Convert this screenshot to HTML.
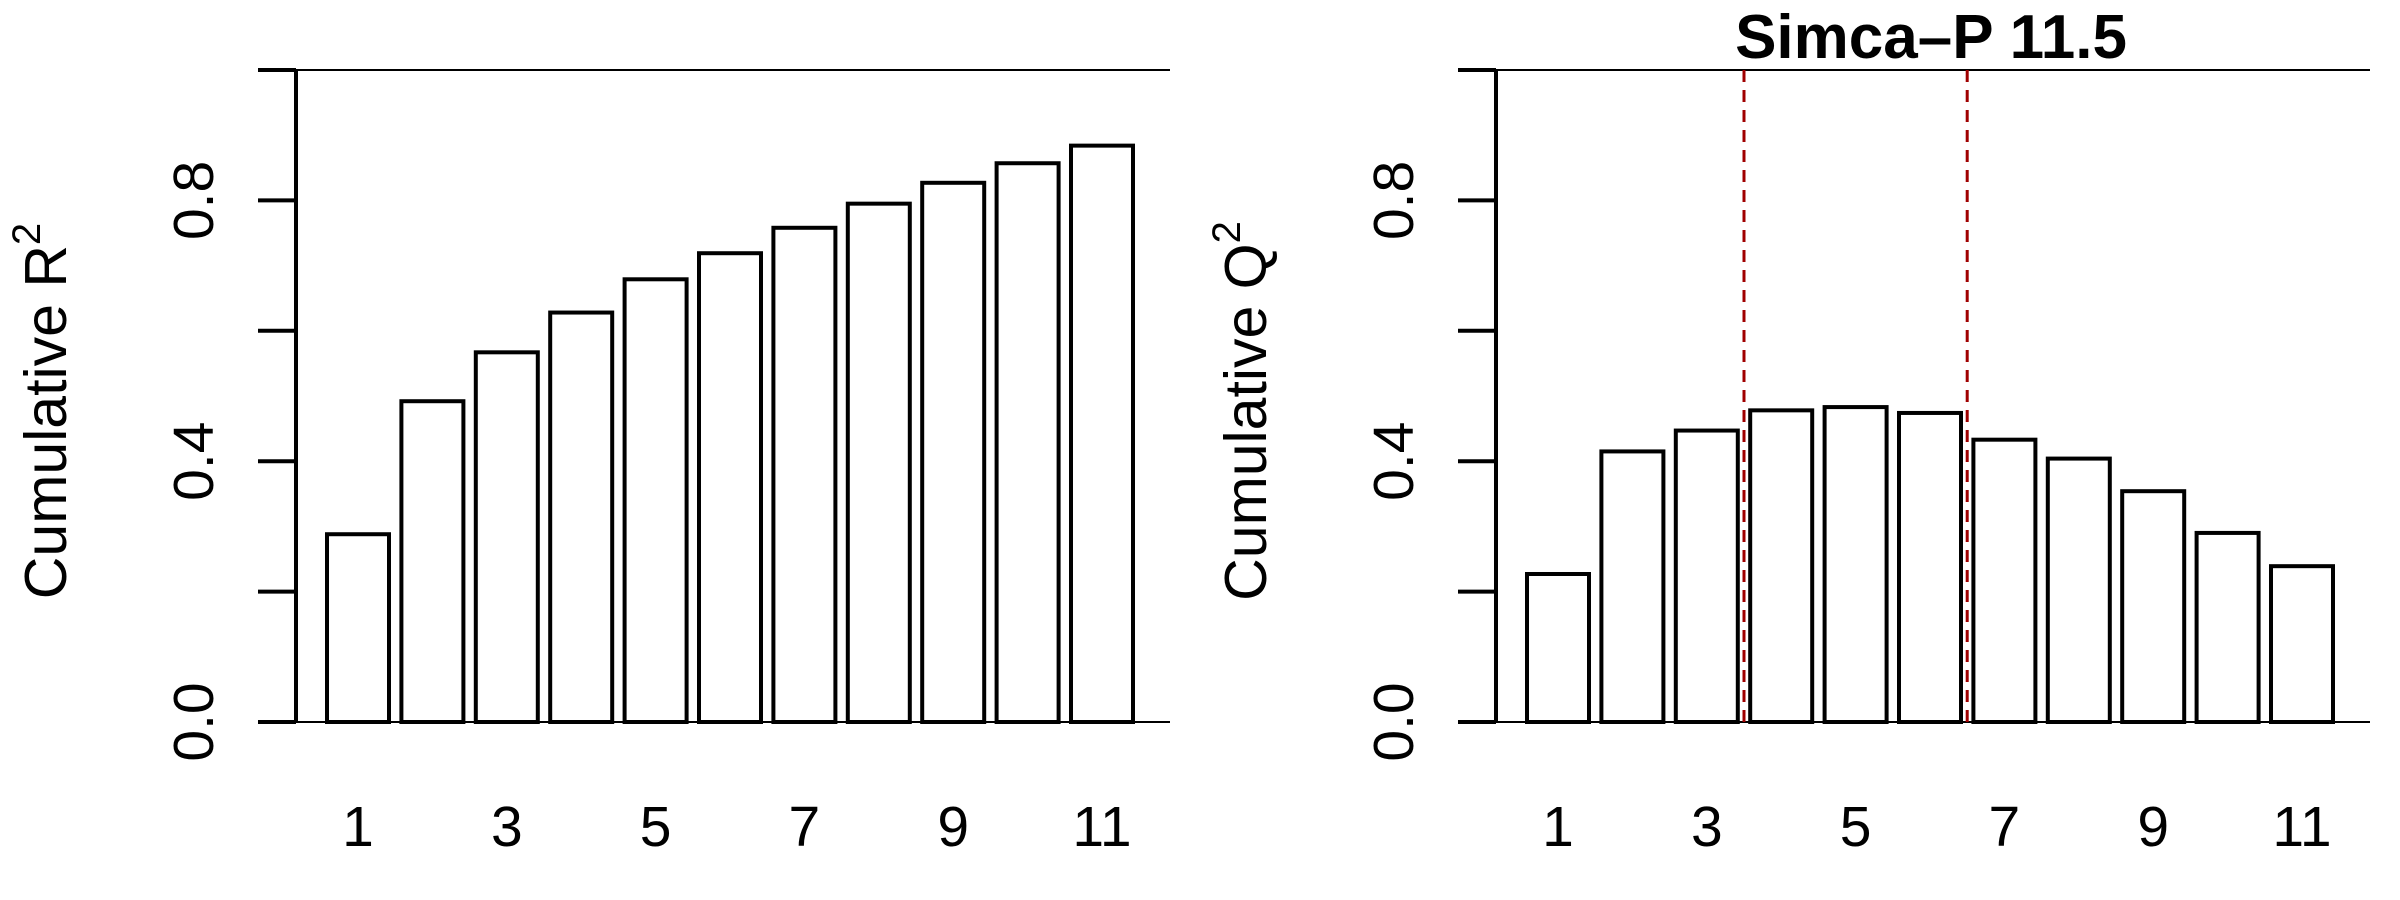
<!DOCTYPE html>
<html><head><meta charset="utf-8"><style>
html,body{margin:0;padding:0;background:#fff;}
svg{display:block;font-family:"Liberation Sans",sans-serif;}
</style></head><body>
<svg id="c" width="2400" height="900" xmlns="http://www.w3.org/2000/svg"></svg>
<script>
const categories = [1,2,3,4,5,6,7,8,9,10,11];
const r2Values = [0.288,0.492,0.567,0.628,0.679,0.719,0.758,0.795,0.827,0.857,0.884];
const q2Values = [0.227,0.415,0.447,0.478,0.483,0.474,0.433,0.404,0.354,0.290,0.239];
const yTicks = [0,0.2,0.4,0.6,0.8,1.0];
const yTickLabels = ["0.0","","0.4","","0.8",""];
const xTickLabels = ["1","3","5","7","9","11"];
const xTickCats = [1,3,5,7,9,11];
const cutoffs = [3.5,6.5];

const NS="http://www.w3.org/2000/svg";
const svg=document.getElementById('c');
function mk(t,a,p){const e=document.createElementNS(NS,t);for(const k in a)e.setAttribute(k,a[k]);(p||svg).appendChild(e);return e;}
const y0=722, y1=70;
function ys(v){return y0-(y0-y1)*v;}
const pitch=74.4, bw=62.0;
function barLeft(i,ox){return ox+327+i*pitch;}
function xc(cat,ox){return barLeft(cat-1,ox)+bw/2;}
function xBetween(c,ox){const i=Math.floor(c);return (barLeft(i-1,ox)+bw+barLeft(i,ox))/2;}

function panel(ox,vals,label,name){
  const g=mk('g',{});
  
  
  const ax=ox+296;
  const l1=mk('line',{x1:ax,y1:y1,x2:ox+1170,y2:y1,stroke:'#000','stroke-width':2},g);
  
  const l2=mk('line',{x1:ax,y1:y0,x2:ox+1170,y2:y0,stroke:'#000','stroke-width':2},g);
  
  const ya=mk('line',{x1:ax,y1:y1-1,x2:ax,y2:y0+1,stroke:'#000','stroke-width':4},g);
  
  yTicks.forEach((t,i)=>{
    const tk=mk('line',{x1:ox+258,y1:ys(t),x2:ax,y2:ys(t),stroke:'#000','stroke-width':4},g);
    
    if(yTickLabels[i]){
      const tx=mk('text',{x:0,y:0,'font-size':57,'text-anchor':'middle',transform:`translate(${ox+213},${ys(t)}) rotate(-90)`},g);
      tx.textContent=yTickLabels[i];
      
    }
  });
  vals.forEach((v,i)=>{
    const b=mk('rect',{x:barLeft(i,ox),y:ys(v),width:bw,height:y0-ys(v),fill:'#fff',stroke:'#000','stroke-width':4},g);
    
  });
  xTickCats.forEach((c,i)=>{
    const tx=mk('text',{x:xc(c,ox),y:846,'font-size':57,'text-anchor':'middle'},g);
    tx.textContent=xTickLabels[i];
    
  });
  const yl=mk('text',{x:0,y:0,'font-size':59,'text-anchor':'middle',transform:`translate(${ox+66},411) rotate(-90)`},g);
  yl.innerHTML=label+'<tspan dy="-26" font-size="40">2</tspan>';
  
  return g;
}
panel(0,r2Values,'Cumulative R','r2');
panel(1200,q2Values,'Cumulative Q','q2');
cutoffs.forEach(c=>{
  const x=xBetween(c,1200);
  const d=mk('line',{x1:x,y1:y1,x2:x,y2:y0,stroke:'#a00000','stroke-width':3,'stroke-dasharray':'12,8'});
  
});
const t=mk('text',{x:1931,y:58,'font-size':62,'font-weight':'bold','text-anchor':'middle'});
t.textContent='Simca\u2013P 11.5';

</script>
</body></html>
